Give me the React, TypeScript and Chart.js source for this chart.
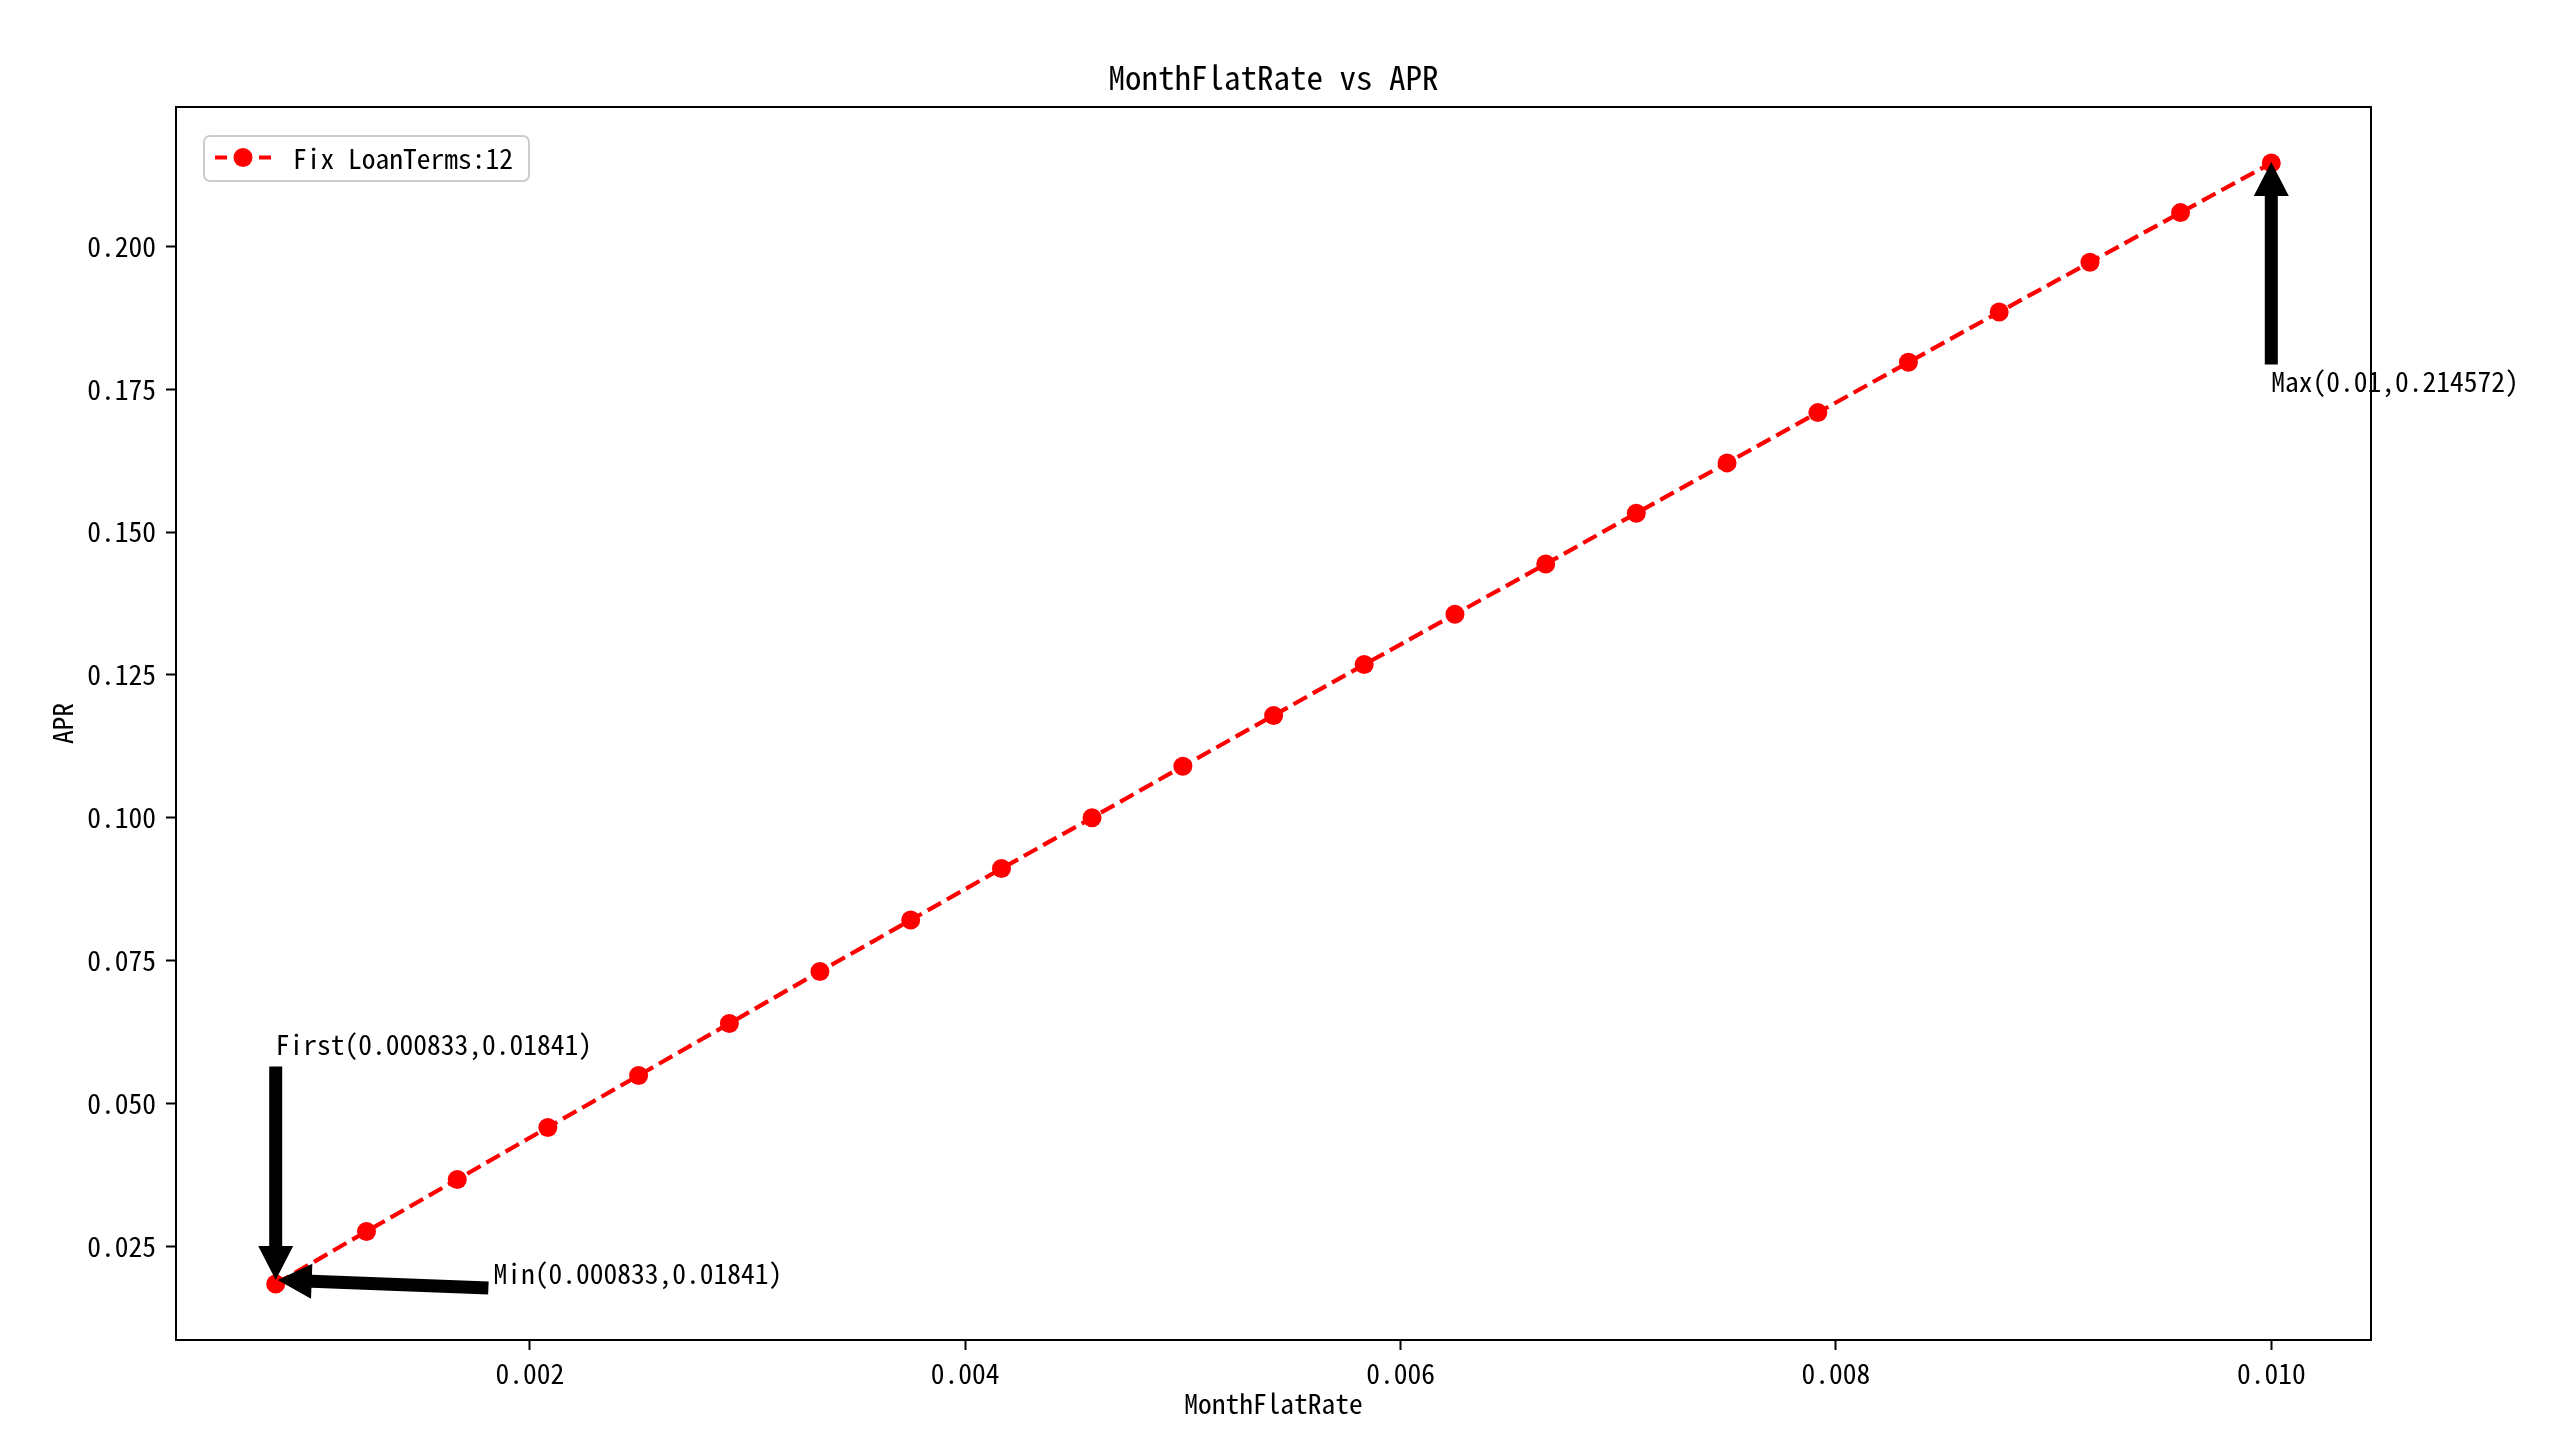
import { useEffect, useRef } from "react";
import { Chart, registerables } from "chart.js";

Chart.register(...registerables);

const FONT = '"Noto Sans Mono CJK SC", "Noto Sans CJK SC", "DejaVu Sans", sans-serif';

// ---- data ----
const monthFlatRate = [
  0.000833, 0.00125, 0.001667, 0.002083, 0.0025, 0.002917, 0.003333, 0.00375,
  0.004167, 0.004583, 0.005, 0.005417, 0.005833, 0.00625, 0.006667, 0.007083,
  0.0075, 0.007917, 0.008333, 0.00875, 0.009167, 0.009583, 0.01,
];
const aprValues = [
  0.01841, 0.0276, 0.0367, 0.0458, 0.0549, 0.064, 0.0731, 0.0821,
  0.0911, 0.1, 0.109, 0.1179, 0.1268, 0.1356, 0.1444, 0.1533,
  0.1621, 0.1709, 0.1797, 0.1885, 0.1972, 0.2059, 0.214572,
];
const xTickValues = [0.002, 0.004, 0.006, 0.008, 0.01];
const yTickValues = [0.025, 0.05, 0.075, 0.1, 0.125, 0.15, 0.175, 0.2];
const xLimits = [0.000375, 0.010458];
const yLimits = [0.0086, 0.22438];

const seriesLabel = "Fix LoanTerms:12";
const chartTitle = "MonthFlatRate vs APR";
const xAxisTitle = "MonthFlatRate";
const yAxisTitle = "APR";

// annotation labels, text anchors (data units) and the point index they point to
const annotationNames = ["first", "min", "max"];
const annotationTexts = [
  "First(0.000833,0.01841)",
  "Min(0.000833,0.01841)",
  "Max(0.01,0.214572)",
];
const annotationTextX = [0.000833, 0.001833, 0.01];
const annotationTextY = [0.05841, 0.01841, 0.174572];
const annotationTarget = [0, 0, 22];

// ---- drawing helpers ----
function drawArrow(ctx: CanvasRenderingContext2D, x0: number, y0: number, x1: number, y1: number) {
  const dx = x1 - x0;
  const dy = y1 - y0;
  const len = Math.hypot(dx, dy);
  const ux = dx / len;
  const uy = dy / len;
  const nx = -uy;
  const ny = ux;
  const hw = 6.5;
  const HW = 17.5;
  const HL = 34;
  const bx = x1 - ux * HL;
  const by = y1 - uy * HL;
  ctx.beginPath();
  ctx.moveTo(x0 + nx * hw, y0 + ny * hw);
  ctx.lineTo(bx + nx * hw, by + ny * hw);
  ctx.lineTo(bx + nx * HW, by + ny * HW);
  ctx.lineTo(x1, y1);
  ctx.lineTo(bx - nx * HW, by - ny * HW);
  ctx.lineTo(bx - nx * hw, by - ny * hw);
  ctx.lineTo(x0 - nx * hw, y0 - ny * hw);
  ctx.closePath();
  ctx.fill();
}

// pixel offsets for arrow tail (from text anchor) and tip (from target point)
const arrowStyle: Record<string, { tail: [number, number]; tip: [number, number] }> = {
  first: { tail: [0, 11], tip: [0, -4] },
  min: { tail: [-5, 4], tip: [2, -4] },
  max: { tail: [0, -27], tip: [0, -1] },
};

const FS = 27.5;

const overlayPlugin = {
  id: "overlay",
  afterDatasetsDraw(chart: any) {
    const { ctx, chartArea: a, scales } = chart;
    const xs = scales.x;
    const ys = scales.y;
    ctx.save();

    // frame (spines)
    ctx.strokeStyle = "#000";
    ctx.lineWidth = 2;
    ctx.strokeRect(a.left, a.top, a.right - a.left, a.bottom - a.top);

    // title
    ctx.fillStyle = "#000";
    ctx.font = `33px ${FONT}`;
    ctx.textAlign = "center";
    ctx.textBaseline = "alphabetic";
    ctx.fillText(chartTitle, (a.left + a.right) / 2, a.top - 17);

    // annotations
    ctx.font = `${FS}px ${FONT}`;
    ctx.textAlign = "left";
    for (let i = 0; i < annotationTexts.length; i++) {
      const tx = xs.getPixelForValue(annotationTextX[i]);
      const ty = ys.getPixelForValue(annotationTextY[i]);
      const t = annotationTarget[i];
      const px = xs.getPixelForValue(monthFlatRate[t]);
      const py = ys.getPixelForValue(aprValues[t]);
      const st = arrowStyle[annotationNames[i]];
      ctx.fillStyle = "#000";
      drawArrow(ctx, tx + st.tail[0], ty + st.tail[1], px + st.tip[0], py + st.tip[1]);
      ctx.fillText(annotationTexts[i], tx, ty);
    }

    // legend
    ctx.font = `${FS}px ${FONT}`;
    const textW = ctx.measureText(seriesLabel).width;
    const bx = a.left + 28;
    const by = a.top + 29;
    const bw = 89 + textW + 16;
    const bh = 45;
    ctx.beginPath();
    ctx.roundRect(bx, by, bw, bh, 6);
    ctx.fillStyle = "rgba(255,255,255,0.8)";
    ctx.fill();
    ctx.strokeStyle = "#cccccc";
    ctx.lineWidth = 2;
    ctx.stroke();
    const cy = by + bh / 2 - 1;
    ctx.strokeStyle = "#ff0000";
    ctx.lineWidth = 4.2;
    ctx.beginPath();
    ctx.moveTo(bx + 11, cy);
    ctx.lineTo(bx + 23, cy);
    ctx.moveTo(bx + 55, cy);
    ctx.lineTo(bx + 67, cy);
    ctx.stroke();
    ctx.fillStyle = "#ff0000";
    ctx.beginPath();
    ctx.arc(bx + 39, cy, 9.5, 0, Math.PI * 2);
    ctx.fill();
    ctx.fillStyle = "#000";
    ctx.textAlign = "left";
    ctx.textBaseline = "middle";
    ctx.fillText(seriesLabel, bx + 89, cy + 1);

    ctx.restore();
  },
};

export default function App() {
  const ref = useRef<HTMLCanvasElement | null>(null);

  useEffect(() => {
    document.body.style.margin = "0";
    const canvas = ref.current;
    if (!canvas) return;
    const points = monthFlatRate.map((x, i) => ({ x, y: aprValues[i] }));
    const tickFont = { family: FONT, size: FS };
    const chart = new Chart(canvas, {
      type: "line",
      data: {
        datasets: [
          {
            label: seriesLabel,
            data: points,
            borderColor: "#ff0000",
            backgroundColor: "#ff0000",
            borderWidth: 4.2,
            borderDash: [15.4, 6.7],
            pointRadius: 9.5,
            pointBorderWidth: 0,
            pointBackgroundColor: "#ff0000",
            tension: 0,
            fill: false,
          },
        ],
      },
      options: {
        animation: false,
        responsive: false,
        devicePixelRatio: 1,
        layout: { padding: { top: 107, right: 181, bottom: 0, left: 0 } },
        plugins: {
          legend: { display: false },
          title: { display: false },
          tooltip: { enabled: false },
        },
        scales: {
          x: {
            type: "linear",
            min: xLimits[0],
            max: xLimits[1],
            afterBuildTicks: (axis: any) => {
              axis.ticks = xTickValues.map((v) => ({ value: v }));
            },
            afterFit: (axis: any) => {
              axis.height = 98;
            },
            ticks: {
              font: tickFont,
              color: "#000",
              padding: 7,
              maxRotation: 0,
              autoSkip: false,
              callback: (v: any) => Number(v).toFixed(3),
            },
            grid: {
              display: true,
              drawOnChartArea: false,
              drawTicks: true,
              tickLength: 10,
              tickColor: "#000",
              tickWidth: 2,
            },
            border: { display: false },
            title: {
              display: true,
              text: xAxisTitle,
              color: "#000",
              font: { family: FONT, size: FS, lineHeight: 1.2 },
              padding: { top: 0, bottom: 18 },
            },
          },
          y: {
            type: "linear",
            min: yLimits[0],
            max: yLimits[1],
            afterBuildTicks: (axis: any) => {
              axis.ticks = yTickValues.map((v) => ({ value: v }));
            },
            afterFit: (axis: any) => {
              axis.width = 176;
            },
            ticks: {
              font: tickFont,
              color: "#000",
              padding: 10,
              autoSkip: false,
              callback: (v: any) => Number(v).toFixed(3),
            },
            grid: {
              display: true,
              drawOnChartArea: false,
              drawTicks: true,
              tickLength: 10,
              tickColor: "#000",
              tickWidth: 2,
            },
            border: { display: false },
            title: {
              display: true,
              text: yAxisTitle,
              color: "#000",
              font: { family: FONT, size: FS, lineHeight: 1.2 },
              padding: { top: 46, bottom: 0 },
            },
          },
        },
      },
      plugins: [overlayPlugin],
    });
    return () => chart.destroy();
  }, []);

  return (
    <div style={{ position: "absolute", left: 0, top: 0, width: 2552, height: 1438, background: "#fff" }}>
      <canvas ref={ref} width={2552} height={1438} style={{ display: "block" }} />
    </div>
  );
}
